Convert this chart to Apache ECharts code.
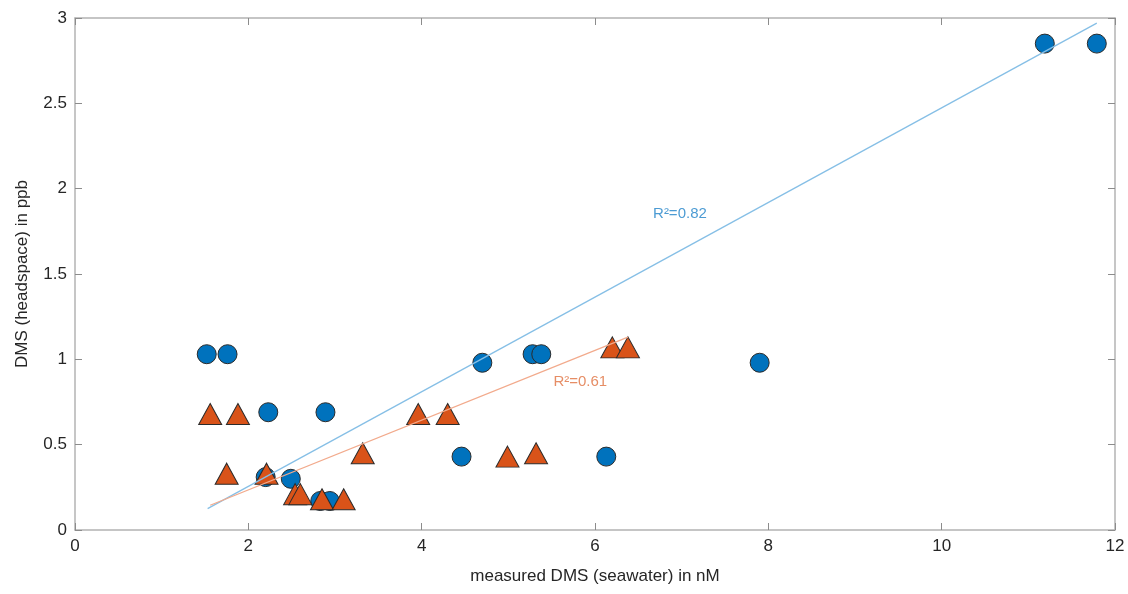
<!DOCTYPE html>
<html>
<head>
<meta charset="utf-8">
<script src="https://cdn.jsdelivr.net/npm/echarts@6/dist/echarts.min.js"></script>
<style>
  html, body { margin: 0; padding: 0; background: #fff; }
  #chart { width: 1128px; height: 594px; }
</style>
</head>
<body>
<div id="chart"></div>
<script>
// values
var circlePoints = [
  [1.52, 1.03], [1.76, 1.03], [2.23, 0.69], [2.89, 0.69],
  [2.20, 0.31], [2.49, 0.30], [2.83, 0.17], [2.94, 0.17],
  [4.46, 0.43], [4.70, 0.98], [5.28, 1.03], [5.38, 1.03],
  [6.13, 0.43], [7.90, 0.98], [11.19, 2.85], [11.79, 2.85]
];
var trianglePoints = [
  [1.56, 0.68], [1.88, 0.68], [1.75, 0.33], [2.21, 0.33],
  [2.54, 0.21], [2.60, 0.21], [2.85, 0.18], [3.10, 0.18],
  [3.32, 0.45], [3.96, 0.68], [4.30, 0.68], [4.99, 0.43],
  [5.32, 0.45], [6.20, 1.07], [6.38, 1.07]
];
var circleFit = [[1.53, 0.125], [11.79, 2.97]];
var triangleFit = [[1.56, 0.145], [6.38, 1.13]];
var circleLabel = [[6.98, 1.85, 'R²=0.82']];
var triangleLabel = [[5.83, 0.87, 'R²=0.61']];
var xTicks = [0, 2, 4, 6, 8, 10, 12];
var yTicks = [0, 0.5, 1, 1.5, 2, 2.5, 3];

var textColor = '#262626';
var boxColor = '#b3b3b3';
var fontFamily = 'Liberation Sans, Arial, sans-serif';

var chart = echarts.init(document.getElementById('chart'));

function frameAxis(pos, isX) {
    var ticks = isX ? xTicks : yTicks;
    return {
        type: 'value',
        position: pos,
        min: ticks[0],
        max: ticks[ticks.length - 1],
        interval: ticks[1] - ticks[0],
        axisLine: { show: true, onZero: false, lineStyle: { color: boxColor, width: 1.5 } },
        axisTick: { show: true, inside: true, length: 7, lineStyle: { color: '#8c8c8c' } },
        axisLabel: { show: false },
        splitLine: { show: false }
    };
}

chart.setOption({
    backgroundColor: '#fff',
    animation: false,
    textStyle: { fontFamily: fontFamily },
    grid: { left: 75, right: 13, top: 18, bottom: 64 },
    xAxis: [
        {
            type: 'value',
            min: 0, max: 12, interval: 2,
            name: 'measured DMS (seawater) in nM',
            nameLocation: 'middle',
            nameGap: 38,
            nameTextStyle: { color: textColor, fontSize: 17, fontFamily: fontFamily },
            axisLine: { show: true, onZero: false, lineStyle: { color: boxColor, width: 1.5 } },
            axisTick: { show: true, inside: true, length: 7, lineStyle: { color: '#8c8c8c' } },
            axisLabel: { color: textColor, fontSize: 17, margin: 8 },
            splitLine: { show: false }
        },
        frameAxis('top', true)
    ],
    yAxis: [
        {
            type: 'value',
            min: 0, max: 3, interval: 0.5,
            name: 'DMS (headspace) in ppb',
            nameLocation: 'middle',
            nameGap: 44,
            nameTextStyle: { color: textColor, fontSize: 17, fontFamily: fontFamily },
            axisLine: { show: true, onZero: false, lineStyle: { color: boxColor, width: 1.5 } },
            axisTick: { show: true, inside: true, length: 7, lineStyle: { color: '#8c8c8c' } },
            axisLabel: { color: textColor, fontSize: 17, margin: 8 },
            splitLine: { show: false }
        },
        frameAxis('right', false)
    ],
    series: [
        {
            type: 'scatter',
            data: circlePoints,
            symbol: 'circle',
            symbolSize: 19,
            itemStyle: { color: '#0072BD', opacity: 1, borderColor: '#2b2b2b', borderWidth: 1 },
            z: 2
        },
        {
            type: 'scatter',
            data: trianglePoints,
            symbol: 'triangle',
            symbolSize: [23, 21],
            itemStyle: { color: '#D95319', opacity: 1, borderColor: '#2b2b2b', borderWidth: 1 },
            z: 3
        },
        {
            type: 'line',
            data: circleFit,
            symbol: 'none',
            lineStyle: { color: '#86bfe6', width: 1.3 },
            z: 4
        },
        {
            type: 'line',
            data: triangleFit,
            symbol: 'none',
            lineStyle: { color: '#f2aa8c', width: 1.3 },
            z: 4
        },
        {
            type: 'scatter',
            data: circleLabel,
            symbolSize: 0,
            label: {
                show: true,
                position: 'inside',
                formatter: function (p) { return p.value[2]; },
                color: '#1f82c8',
                fontSize: 15
            },
            z: 5
        },
        {
            type: 'scatter',
            data: triangleLabel,
            symbolSize: 0,
            label: {
                show: true,
                position: 'inside',
                formatter: function (p) { return p.value[2]; },
                color: '#e0703f',
                fontSize: 15
            },
            z: 5
        }
    ]
});

window.addEventListener('resize', function () {
    chart.resize();
});
</script>
</body>
</html>
